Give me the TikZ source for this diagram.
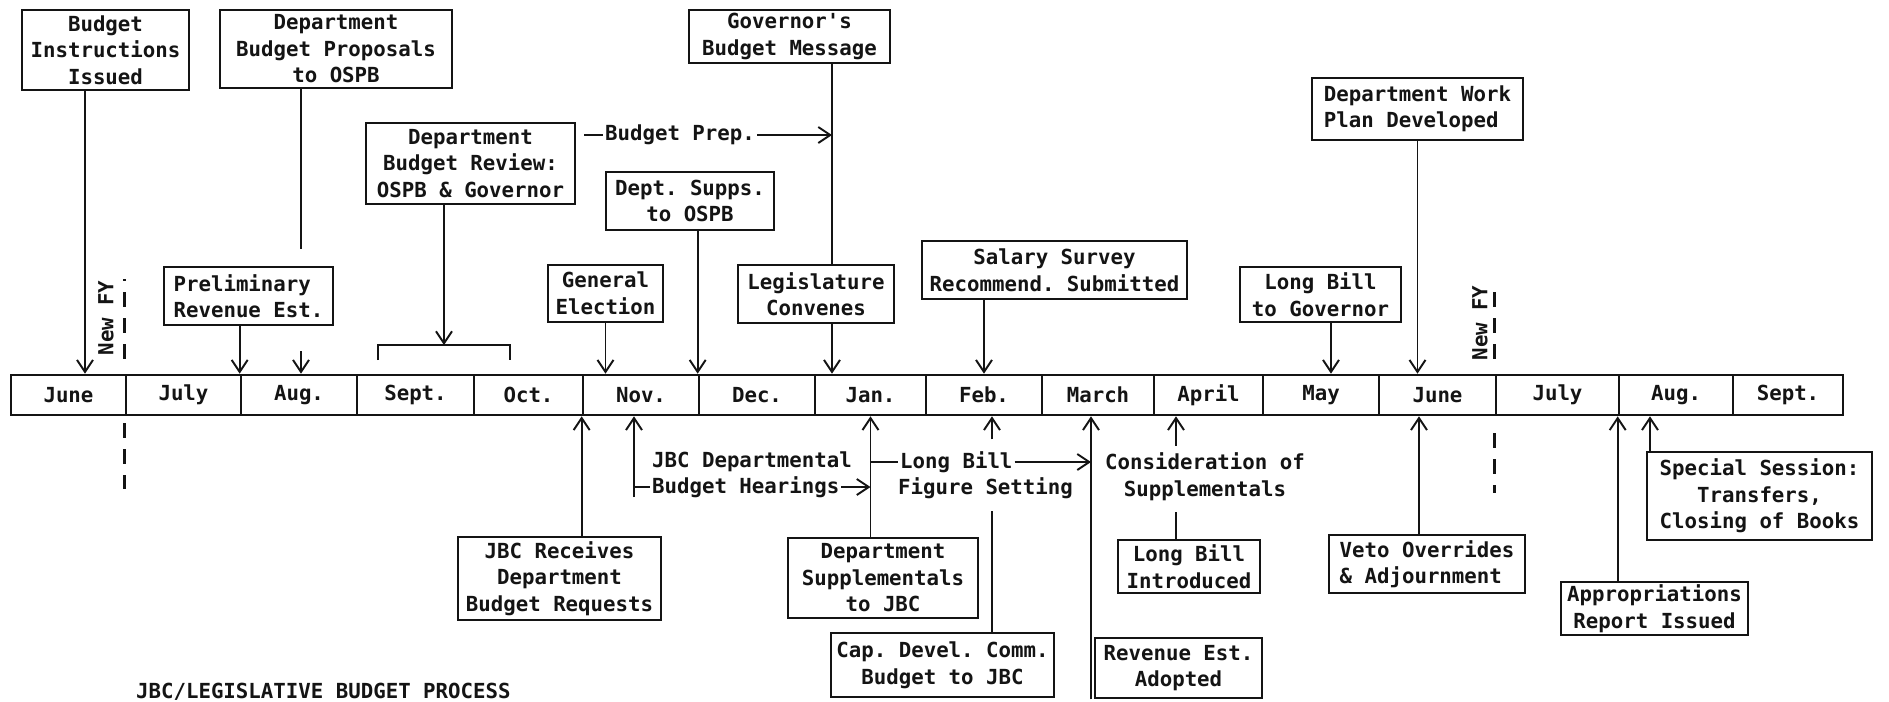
\documentclass[tikz,border=0pt]{standalone}
\usepackage{fontspec}
\setmonofont{DejaVu Sans Mono}
\usepackage{tikz}
\usetikzlibrary{positioning,arrows.meta,calc}
\definecolor{ink}{HTML}{141414}

\begin{document}
\begin{tikzpicture}[x=1cm, y=1cm,
  font=\ttfamily\bfseries\fontsize{11.8}{15.1}\selectfont,
  sz/.style 2 args={minimum width=#1cm, minimum height=#2cm},
  box/.style={draw=ink, text=ink, line width=1.5pt, align=center, inner sep=1pt},
  month/.style={draw=ink, text=ink, line width=1.5pt, minimum height=8mm, inner sep=0pt},
  txt/.style={text=ink, inner sep=1pt, align=center},
  fy/.style={text=ink, rotate=90, inner sep=1pt},
  arr/.style={-{Straight Barb[length=2.4mm, width=3.2mm]}, line width=1.1pt, draw=ink},
  con/.style={line width=1.1pt, draw=ink},
  fydash/.style={line width=1.5pt, draw=ink, dash pattern=on 3mm off 2.2mm}
]
\fill[white] (0,0) rectangle (37.78,-14.02);
\useasboundingbox (0,0) rectangle (37.78,-14.02);
% ================= month bar =================
\node[month, minimum width=2.30cm] (m1)  at (1.37,-7.90)  {June};
\node[month, minimum width=2.30cm] (m2)  at (3.67,-7.90)  {July};
\node[month, minimum width=2.32cm] (m3)  at (5.98,-7.90)  {Aug.};
\node[month, minimum width=2.34cm] (m4)  at (8.31,-7.90)  {Sept.};
\node[month, minimum width=2.18cm] (m5)  at (10.57,-7.90) {Oct.};
\node[month, minimum width=2.32cm] (m6)  at (12.82,-7.90) {Nov.};
\node[month, minimum width=2.32cm] (m7)  at (15.14,-7.90) {Dec.};
\node[month, minimum width=2.22cm] (m8)  at (17.41,-7.90) {Jan.};
\node[month, minimum width=2.32cm] (m9)  at (19.68,-7.90) {Feb.};
\node[month, minimum width=2.24cm] (m10) at (21.96,-7.90) {March};
\node[month, minimum width=2.18cm] (m11) at (24.17,-7.90) {April};
\node[month, minimum width=2.32cm] (m12) at (26.42,-7.90) {May};
\node[month, minimum width=2.34cm] (m13) at (28.75,-7.90) {June};
\node[month, minimum width=2.46cm] (m14) at (31.15,-7.90) {July};
\node[month, minimum width=2.28cm] (m15) at (33.52,-7.90) {Aug.};
\node[month, minimum width=2.20cm] (m16) at (35.76,-7.90) {Sept.};
% ================= boxes above the bar =================
\node[box, sz={3.34}{1.60}] (binst)  at (2.11,-1.00)  {Budget\\Instructions\\Issued};
\node[box, sz={4.64}{1.56}] (bprop)  at (6.72,-0.98)  {Department\\Budget Proposals\\to OSPB};
\node[box, sz={4.18}{1.62}] (brev)   at (9.41,-3.27)  {Department\\Budget Review:\\OSPB \& Governor};
\node[box, sz={4.02}{1.06}] (gov)    at (15.79,-0.73) {Governor's\\Budget Message};
\node[box, sz={3.36}{1.16}] (supps)  at (13.80,-4.02) {Dept. Supps.\\to OSPB};
\node[box, sz={4.22}{1.24}, align=left] (plan) at (28.35,-2.18) {Department Work\\Plan Developed};
\node[box, sz={3.38}{1.16}, align=left] (prelim) at (4.97,-5.92) {Preliminary\\Revenue Est.};
\node[box, sz={2.30}{1.14}] (elect)  at (12.11,-5.87) {General\\Election};
\node[box, sz={3.12}{1.16}] (legis)  at (16.32,-5.88) {Legislature\\Convenes};
\node[box, sz={5.30}{1.16}] (salary) at (21.09,-5.40) {Salary Survey\\Recommend. Submitted};
\node[box, sz={3.22}{1.10}] (lbgov)  at (26.41,-5.89) {Long Bill\\to Governor};
% ================= boxes below the bar =================
\node[box, sz={4.06}{1.66}] (jbcr)   at (11.19,-11.57) {JBC Receives\\Department\\Budget Requests};
\node[box, sz={3.80}{1.60}] (dsupp)  at (17.66,-11.56) {Department\\Supplementals\\to JBC};
\node[box, sz={4.46}{1.28}] (capdev) at (18.85,-13.30) {Cap. Devel. Comm.\\Budget to JBC};
\node[box, sz={3.34}{1.20}] (revest) at (23.57,-13.36) {Revenue Est.\\Adopted};
\node[box, sz={2.84}{1.06}] (lbint)  at (23.78,-11.33) {Long Bill\\Introduced};
\node[box, sz={3.92}{1.16}, align=left] (veto) at (28.54,-11.28) {Veto Overrides\\\& Adjournment};
\node[box, sz={3.74}{1.06}] (approp) at (33.09,-12.17) {Appropriations\\Report Issued};
\node[box, sz={4.50}{1.76}] (spec)   at (35.19,-9.92)  {Special Session:\\Transfers,\\Closing of Books};
% ================= free text =================
\node[txt] (prep) at (13.60,-2.70) {Budget Prep.};
\node[txt, anchor=west] (hear1) at (13.00,-9.24) {JBC Departmental};
\node[txt, anchor=west] (hear2) at (13.00,-9.74) {Budget Hearings};
\node[txt, anchor=west] (fig1)  at (17.96,-9.24) {Long Bill};
\node[txt, anchor=west] (fig2)  at (17.92,-9.76) {Figure Setting};
\node[txt] (cons) at (24.10,-9.53) {Consideration of\\Supplementals};
\node[fy] (nfy1) at (2.12,-6.36)  {New FY};
\node[fy] (nfy2) at (29.60,-6.46) {New FY};
\node[txt, anchor=west] (title) at (2.68,-13.84) {JBC/LEGISLATIVE BUDGET PROCESS};
% ================= connector x positions =================
\coordinate (xa)  at (1.70,0);
\coordinate (xb)  at (6.02,0);
\coordinate (brk) at (8.88,-6.90);
\coordinate (gl)  at (16.64,0);
\coordinate (xg)  at (26.62,0);
\coordinate (hv)  at (12.68,-9.94);
\coordinate (xf)  at (19.84,0);
\coordinate (xr)  at (21.82,0);
\coordinate (xap) at (23.52,0);
\coordinate (xv)  at (28.38,0);
\coordinate (xs)  at (33.00,0);
% ================= arrows from above =================
\draw[arr] (xa |- binst.south) -- (xa |- m1.north);
\draw[con] (xb |- bprop.south) -- ($(xb |- prelim.north)+(0,0.34)$);
\draw[arr] ($(xb |- prelim.south)+(0,-0.5)$) -- (xb |- m3.north);
\draw[arr] (prelim.south -| m3.north west) -- (m3.north west);
\draw[arr] (brk |- brev.south) -- (brk);
\draw[con] ([xshift=-1.32cm, yshift=-0.30cm]brk) -- ([xshift=-1.32cm]brk) -- ([xshift=1.32cm]brk) -- ([xshift=1.32cm, yshift=-0.30cm]brk);
\draw[con] ($(brev.east |- prep)+(0.16,0)$) -- (prep.west);
\draw[arr] (prep.east) -- (gl |- prep);
\draw[con] (gl |- gov.south) -- (gl |- legis.north);
\draw[arr] (gl |- legis.south) -- (gl |- m8.north);
\draw[arr] (supps.south -| m7.north west) -- (m7.north west);
\draw[arr] (elect.south) -- (elect.south |- m6.north);
\draw[arr] (salary.south -| m9.north) -- (m9.north);
\draw[arr] (xg |- lbgov.south) -- (xg |- m12.north);
\draw[arr] (plan.south) -- (plan.south |- m13.north);
% ================= arrows from below =================
\draw[arr] (jbcr.north -| m6.south west) -- (m6.south west);
\draw[arr] (hv) -- (hv |- m6.south);
\draw[con] (hv |- hear2) -- (hear2.west);
\draw[arr] (hear2.east) -- (hear2 -| m8.south);
\draw[arr] (dsupp.north -| m8.south) -- (m8.south);
\draw[con] (fig1 -| m8.south) -- (fig1.west);
\draw[arr] (fig1.east) -- (xr |- fig1);
\draw[arr] ($(xf |- fig1.north)+(0,0.2)$) -- (xf |- m9.south);
\draw[con] (xf |- capdev.north) -- ($(xf |- fig2.south)+(0,-0.2)$);
\draw[arr] (xr |- revest.south) -- (xr |- m10.south);
\draw[arr] ($(xap |- cons.north)+(0,0.1)$) -- (xap |- m11.south);
\draw[con] (xap |- lbint.north) -- ($(xap |- cons.south)+(0,-0.2)$);
\draw[arr] (xv |- veto.north) -- (xv |- m13.south);
\draw[arr] (approp.north -| m15.south west) -- (m15.south west);
\draw[arr] (xs |- spec.north) -- (xs |- m15.south);
% ================= new fiscal year marks =================
\draw[fydash] ([yshift=3mm]m2.north west) -- ++(0,1.6);
\draw[fydash] ([yshift=-1.4mm]m2.south west) -- ++(0,-1.32);
\draw[fydash] ([yshift=3mm]m14.north west) -- ++(0,1.46);
\draw[fydash] ([yshift=-3.4mm]m14.south west) -- ++(0,-1.2);
\end{tikzpicture}
\end{document}
